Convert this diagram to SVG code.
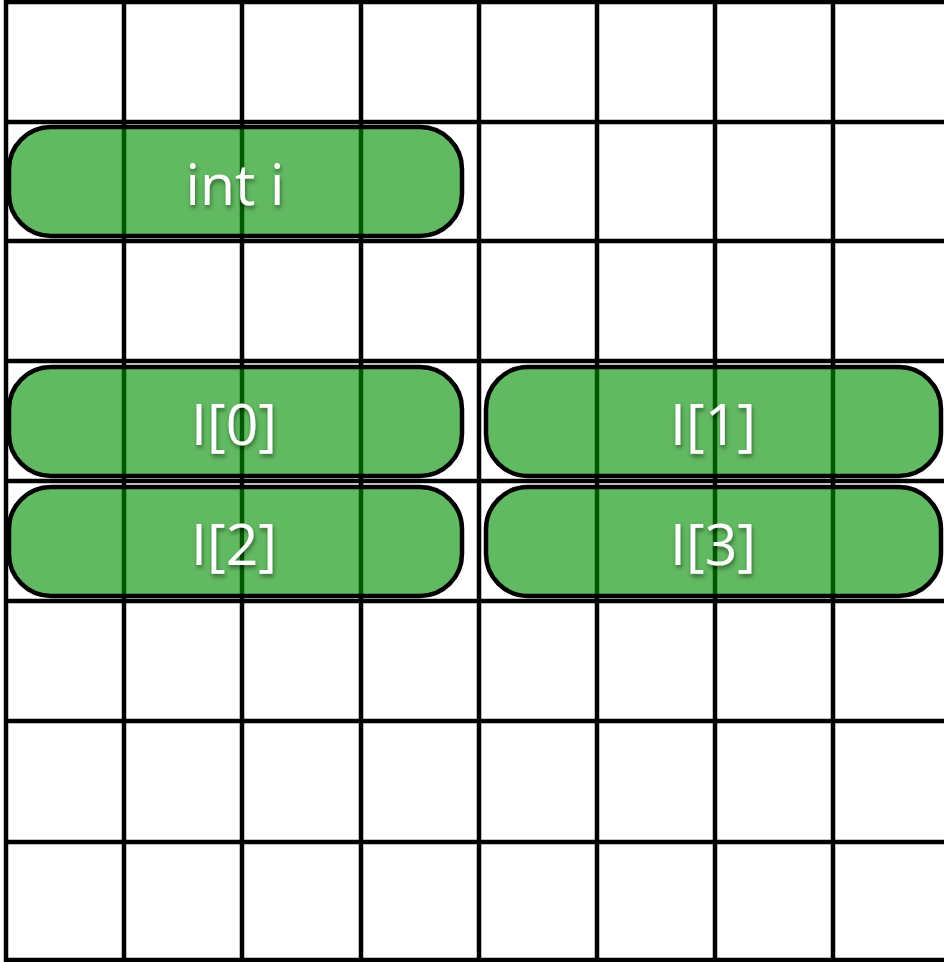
<svg xmlns="http://www.w3.org/2000/svg" width="944" height="962" viewBox="0 0 944 962">
<defs>
<style>
.grid line{stroke:#000;stroke-width:4.5}
.box{fill:#008E00;fill-opacity:0.62;stroke:#000;stroke-width:4.5}
.lbl{font-family:"Open Sans","Noto Sans",sans-serif;font-size:57px;fill:#fff;text-anchor:middle;filter:url(#sh)}
</style>
<filter id="sh" x="-20%" y="-20%" width="140%" height="150%">
<feDropShadow dx="1" dy="3" stdDeviation="2" flood-color="#000" flood-opacity="0.45"/>
</filter>
</defs>
<rect width="944" height="962" fill="#fff"/>
<g class="grid" id="grid">
<line x1="6" y1="0" x2="6" y2="962"/>
<line x1="124" y1="0" x2="124" y2="962"/>
<line x1="242" y1="0" x2="242" y2="962"/>
<line x1="361" y1="0" x2="361" y2="962"/>
<line x1="479" y1="0" x2="479" y2="962"/>
<line x1="597" y1="0" x2="597" y2="962"/>
<line x1="715" y1="0" x2="715" y2="962"/>
<line x1="833" y1="0" x2="833" y2="962"/>
<line x1="4" y1="2" x2="944" y2="2"/>
<line x1="4" y1="122" x2="944" y2="122"/>
<line x1="4" y1="241" x2="944" y2="241"/>
<line x1="4" y1="361" x2="944" y2="361"/>
<line x1="4" y1="481" x2="944" y2="481"/>
<line x1="4" y1="601" x2="944" y2="601"/>
<line x1="4" y1="721" x2="944" y2="721"/>
<line x1="4" y1="842" x2="944" y2="842"/>
<line x1="4" y1="960" x2="944" y2="960"/>
</g>
<g id="node-int-i">
<rect class="box" x="9" y="127" width="453" height="109" rx="42"/>
<text class="lbl" x="235" y="205">int i</text>
</g>
<g id="node-I0">
<rect class="box" x="9" y="367" width="453" height="109" rx="42"/>
<text class="lbl" x="234" y="445">I[0]</text>
</g>
<g id="node-I1">
<rect class="box" x="486" y="367" width="455" height="109" rx="42"/>
<text class="lbl" x="713" y="445">I[1]</text>
</g>
<g id="node-I2">
<rect class="box" x="9" y="487" width="453" height="109" rx="42"/>
<text class="lbl" x="234" y="565">I[2]</text>
</g>
<g id="node-I3">
<rect class="box" x="486" y="487" width="455" height="109" rx="42"/>
<text class="lbl" x="713" y="565">I[3]</text>
</g>
<g id="connectors"/>
</svg>
